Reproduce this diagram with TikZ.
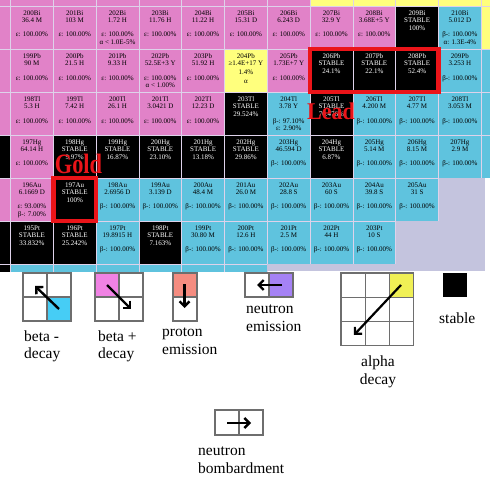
\documentclass[tikz,border=0pt]{standalone}
\usepackage{fontspec}
\setmainfont{Liberation Serif}
\usepackage{graphicx}
\usetikzlibrary{arrows.meta}
\definecolor{pkc}{RGB}{225,130,200}
\definecolor{cyc}{RGB}{95,195,222}
\definecolor{yec}{RGB}{255,255,125}
\definecolor{lvc}{RGB}{196,196,222}
\definecolor{gridc}{RGB}{222,210,234}
\definecolor{redc}{RGB}{235,20,25}
\definecolor{lgray}{RGB}{110,110,110}
\definecolor{lcyan}{RGB}{70,205,245}
\definecolor{lpink}{RGB}{240,130,228}
\definecolor{lsalmon}{RGB}{245,140,128}
\definecolor{lpurple}{RGB}{165,130,245}
\definecolor{lyellow}{RGB}{240,240,85}
\tikzset{
 pk/.style={fill=pkc}, pkt/.style={text=black},
 cy/.style={fill=cyc}, cyt/.style={text=black},
 ye/.style={fill=yec}, yet/.style={text=black},
 bk/.style={fill=black}, bkt/.style={text=white},
 lv/.style={fill=lvc},
 ctext/.style={anchor=north,inner sep=0pt,align=center,font=\fontsize{7}{7.7}\selectfont},
 lg/.style={draw=lgray,line width=1.3pt},
 larrow/.style={line width=2.4pt,-{Straight Barb[length=5pt,width=10pt]}},
 ltext/.style={anchor=base west,inner sep=0pt,font=\fontsize{15.5}{18}\selectfont},
 bigred/.style={anchor=base,inner sep=0pt,text=redc},
 redbox/.style={draw=redc,line width=4.5pt},
}
\newcommand{\nuc}[5]{%
  \filldraw[#3,draw=gridc,line width=0.8pt] ({10.5+42.8*(#1)},{6+43*(#2)}) rectangle ++(42.8,43);
  \node[ctext,#3t] (#4) at ({31.9+42.8*(#1)},{10.2+43*(#2)}) {#5};}
\newcommand{\nucbox}[3]{%
  \filldraw[#3,draw=gridc,line width=0.8pt] ({10.5+42.8*(#1)},{6+43*(#2)}) rectangle ++(42.8,43);}
\begin{document}
\begin{tikzpicture}[x=1pt,y=-1pt]
\useasboundingbox (0,0) rectangle (490,484);
\fill[white] (0,0) rectangle (490,484);
\begin{scope}
\clip (0,0) rectangle (490,271);
% Po row (partial)
\foreach \c in {-1,0,...,6} {\nucbox{\c}{-1}{pk}}
\foreach \c in {7,...,11} {\nucbox{\c}{-1}{ye}}
% Bi row
\nucbox{-1}{0}{pk}
\nuc{0}{0}{pk}{bi200}{200Bi\\36.4 M\\[6.5pt]ε: 100.00\%}
\nuc{1}{0}{pk}{bi201}{201Bi\\103 M\\[6.5pt]ε: 100.00\%}
\nuc{2}{0}{pk}{bi202}{202Bi\\1.72 H\\[6.5pt]ε: 100.00\%\\α < 1.0E-5\%}
\nuc{3}{0}{pk}{bi203}{203Bi\\11.76 H\\[6.5pt]ε: 100.00\%}
\nuc{4}{0}{pk}{bi204}{204Bi\\11.22 H\\[6.5pt]ε: 100.00\%}
\nuc{5}{0}{pk}{bi205}{205Bi\\15.31 D\\[6.5pt]ε: 100.00\%}
\nuc{6}{0}{pk}{bi206}{206Bi\\6.243 D\\[6.5pt]ε: 100.00\%}
\nuc{7}{0}{pk}{bi207}{207Bi\\32.9 Y\\[6.5pt]ε: 100.00\%}
\nuc{8}{0}{pk}{bi208}{208Bi\\3.68E+5 Y\\[6.5pt]ε: 100.00\%}
\nuc{9}{0}{bk}{bi209}{209Bi\\STABLE\\100\%}
\nuc{10}{0}{cy}{bi210}{210Bi\\5.012 D\\[6.5pt]β-: 100.00\%\\α: 1.3E-4\%}
\nucbox{11}{0}{ye}
% Pb row
\nucbox{-1}{1}{pk}
\nuc{0}{1}{pk}{pb199}{199Pb\\90 M\\[6.5pt]ε: 100.00\%}
\nuc{1}{1}{pk}{pb200}{200Pb\\21.5 H\\[6.5pt]ε: 100.00\%}
\nuc{2}{1}{pk}{pb201}{201Pb\\9.33 H\\[6.5pt]ε: 100.00\%}
\nuc{3}{1}{pk}{pb202}{202Pb\\52.5E+3 Y\\[6.5pt]ε: 100.00\%\\α < 1.00\%}
\nuc{4}{1}{pk}{pb203}{203Pb\\51.92 H\\[6.5pt]ε: 100.00\%}
\nuc{5}{1}{ye}{pb204}{204Pb\\≥1.4E+17 Y\\[1.2pt]1.4\%\\[1.2pt]α}
\nuc{6}{1}{pk}{pb205}{205Pb\\1.73E+7 Y\\[6.5pt]ε: 100.00\%}
\nuc{7}{1}{bk}{pb206}{206Pb\\STABLE\\24.1\%}
\nuc{8}{1}{bk}{pb207}{207Pb\\STABLE\\22.1\%}
\nuc{9}{1}{bk}{pb208}{208Pb\\STABLE\\52.4\%}
\nuc{10}{1}{cy}{pb209}{209Pb\\3.253 H\\[6.5pt]β-: 100.00\%}
\nucbox{11}{1}{cy}
% Tl row
\nucbox{-1}{2}{pk}
\nuc{0}{2}{pk}{tl198}{198Tl\\5.3 H\\[6.5pt]ε: 100.00\%}
\nuc{1}{2}{pk}{tl199}{199Tl\\7.42 H\\[6.5pt]ε: 100.00\%}
\nuc{2}{2}{pk}{tl200}{200Tl\\26.1 H\\[6.5pt]ε: 100.00\%}
\nuc{3}{2}{pk}{tl201}{201Tl\\3.0421 D\\[6.5pt]ε: 100.00\%}
\nuc{4}{2}{pk}{tl202}{202Tl\\12.23 D\\[6.5pt]ε: 100.00\%}
\nuc{5}{2}{bk}{tl203}{203Tl\\STABLE\\29.524\%}
\nuc{6}{2}{cy}{tl204}{204Tl\\3.78 Y\\[6.5pt]β-: 97.10\%\\ε: 2.90\%}
\nuc{7}{2}{bk}{tl205}{205Tl\\STABLE\\70.476\%}
\nuc{8}{2}{cy}{tl206}{206Tl\\4.200 M\\[6.5pt]β-: 100.00\%}
\nuc{9}{2}{cy}{tl207}{207Tl\\4.77 M\\[6.5pt]β-: 100.00\%}
\nuc{10}{2}{cy}{tl208}{208Tl\\3.053 M\\[6.5pt]β-: 100.00\%}
\nucbox{11}{2}{cy}
% Hg row
\nucbox{-1}{3}{bk}
\nuc{0}{3}{pk}{hg197}{197Hg\\64.14 H\\[6.5pt]ε: 100.00\%}
\nuc{1}{3}{bk}{hg198}{198Hg\\STABLE\\9.97\%}
\nuc{2}{3}{bk}{hg199}{199Hg\\STABLE\\16.87\%}
\nuc{3}{3}{bk}{hg200}{200Hg\\STABLE\\23.10\%}
\nuc{4}{3}{bk}{hg201}{201Hg\\STABLE\\13.18\%}
\nuc{5}{3}{bk}{hg202}{202Hg\\STABLE\\29.86\%}
\nuc{6}{3}{cy}{hg203}{203Hg\\46.594 D\\[6.5pt]β-: 100.00\%}
\nuc{7}{3}{bk}{hg204}{204Hg\\STABLE\\6.87\%}
\nuc{8}{3}{cy}{hg205}{205Hg\\5.14 M\\[6.5pt]β-: 100.00\%}
\nuc{9}{3}{cy}{hg206}{206Hg\\8.15 M\\[6.5pt]β-: 100.00\%}
\nuc{10}{3}{cy}{hg207}{207Hg\\2.9 M\\[6.5pt]β-: 100.00\%}
\nucbox{11}{3}{cy}
% Au row
\nucbox{-1}{4}{pk}
\nuc{0}{4}{pk}{au196}{196Au\\6.1669 D\\[6.5pt]ε: 93.00\%\\β-: 7.00\%}
\nuc{1}{4}{bk}{au197}{197Au\\STABLE\\100\%}
\nuc{2}{4}{cy}{au198}{198Au\\2.6956 D\\[6.5pt]β-: 100.00\%}
\nuc{3}{4}{cy}{au199}{199Au\\3.139 D\\[6.5pt]β-: 100.00\%}
\nuc{4}{4}{cy}{au200}{200Au\\48.4 M\\[6.5pt]β-: 100.00\%}
\nuc{5}{4}{cy}{au201}{201Au\\26.0 M\\[6.5pt]β-: 100.00\%}
\nuc{6}{4}{cy}{au202}{202Au\\28.8 S\\[6.5pt]β-: 100.00\%}
\nuc{7}{4}{cy}{au203}{203Au\\60 S\\[6.5pt]β-: 100.00\%}
\nuc{8}{4}{cy}{au204}{204Au\\39.8 S\\[6.5pt]β-: 100.00\%}
\nuc{9}{4}{cy}{au205}{205Au\\31 S\\[6.5pt]β-: 100.00\%}
\fill[lvc] (438.5,178) rectangle (490,221);
% Pt row
\nucbox{-1}{5}{bk}
\nuc{0}{5}{bk}{pt195}{195Pt\\STABLE\\33.832\%}
\nuc{1}{5}{bk}{pt196}{196Pt\\STABLE\\25.242\%}
\nuc{2}{5}{cy}{pt197}{197Pt\\19.8915 H\\[6.5pt]β-: 100.00\%}
\nuc{3}{5}{bk}{pt198}{198Pt\\STABLE\\7.163\%}
\nuc{4}{5}{cy}{pt199}{199Pt\\30.80 M\\[6.5pt]β-: 100.00\%}
\nuc{5}{5}{cy}{pt200}{200Pt\\12.6 H\\[6.5pt]β-: 100.00\%}
\nuc{6}{5}{cy}{pt201}{201Pt\\2.5 M\\[6.5pt]β-: 100.00\%}
\nuc{7}{5}{cy}{pt202}{202Pt\\44 H\\[6.5pt]β-: 100.00\%}
\nuc{8}{5}{cy}{pt203}{203Pt\\10 S\\[6.5pt]β-: 100.00\%}
\fill[lvc] (395.7,221) rectangle (490,264);
% Ir row (partial)
\nucbox{-1}{6}{bk}
\foreach \c in {0,...,5} {\nucbox{\c}{6}{cy}}
\fill[lvc] (267.3,264) rectangle (490,271);
\fill[white] (485,178) rectangle (490,271);
\end{scope}
% highlight boxes and labels
\draw[redbox] (310.1,49) rectangle (438.5,92);
\draw[redbox] (53.3,178) rectangle (96.1,221);
\node[bigred] (lead) at (331,120) {\fontsize{24}{24}\selectfont\bfseries\scalebox{0.92}[1]{Lead}};
\node[bigred] (gold) at (78.5,174) {\fontsize{28}{28}\selectfont\bfseries\scalebox{0.8}[1]{Gold}};
% legend: beta -
\fill[lcyan] (47,297) rectangle (71,321);
\draw[lg] (23,273) rectangle (71,321) (47,273) -- (47,321) (23,297) -- (71,297);
\coordinate (bmS) at (59,309); \coordinate (bmE) at (35,286);
\draw[larrow] (bmS) -- (bmE);
\node[ltext] (bm1) at (24,341) {beta -};
\node[ltext] (bm2) at (24,358.5) {decay};
% beta +
\fill[lpink] (95,273) rectangle (119,297);
\draw[lg] (95,273) rectangle (143,321) (119,273) -- (119,321) (95,297) -- (143,297);
\coordinate (bpS) at (107,285); \coordinate (bpE) at (131,309);
\draw[larrow] (bpS) -- (bpE);
\node[ltext] (bp1) at (98,341) {beta +};
\node[ltext] (bp2) at (98,358.5) {decay};
% proton emission
\fill[lsalmon] (173,273) rectangle (197,297);
\draw[lg] (173,273) rectangle (197,321) (173,297) -- (197,297);
\coordinate (prS) at (184.5,284); \coordinate (prE) at (184.5,308);
\draw[larrow] (prS) -- (prE);
\node[ltext] (pr1) at (162,336) {proton};
\node[ltext] (pr2) at (162,354) {emission};
% neutron emission
\fill[lpurple] (269,273) rectangle (293,297);
\draw[lg] (245,273) rectangle (293,297) (269,273) -- (269,297);
\coordinate (neS) at (282,285); \coordinate (neE) at (257,285);
\draw[larrow] (neS) -- (neE);
\node[ltext] (ne1) at (246,313) {neutron};
\node[ltext] (ne2) at (246,331) {emission};
% alpha decay
\fill[lyellow] (389.4,273) rectangle (413.6,297.2);
\draw[lg] (341,273) rectangle (413.6,345.6) (365.2,273) -- (365.2,345.6) (389.4,273) -- (389.4,345.6) (341,297.2) -- (413.6,297.2) (341,321.4) -- (413.6,321.4);
\coordinate (alS) at (401,285); \coordinate (alE) at (354,335);
\draw[larrow,line width=2.2pt] (alS) -- (alE);
\node[ltext,anchor=base] (al1) at (378,366) {alpha};
\node[ltext,anchor=base] (al2) at (378,384) {decay};
% stable
\fill[black] (443,273) rectangle (467,297);
\node[ltext] (st) at (439,323) {stable};
% neutron bombardment
\draw[lg] (215,410) rectangle (263,435) (239,410) -- (239,435);
\coordinate (nbS) at (227,423); \coordinate (nbE) at (251,423);
\draw[larrow] (nbS) -- (nbE);
\node[ltext] (nb1) at (198,455) {neutron};
\node[ltext] (nb2) at (198,473) {bombardment};
\end{tikzpicture}
\end{document}
